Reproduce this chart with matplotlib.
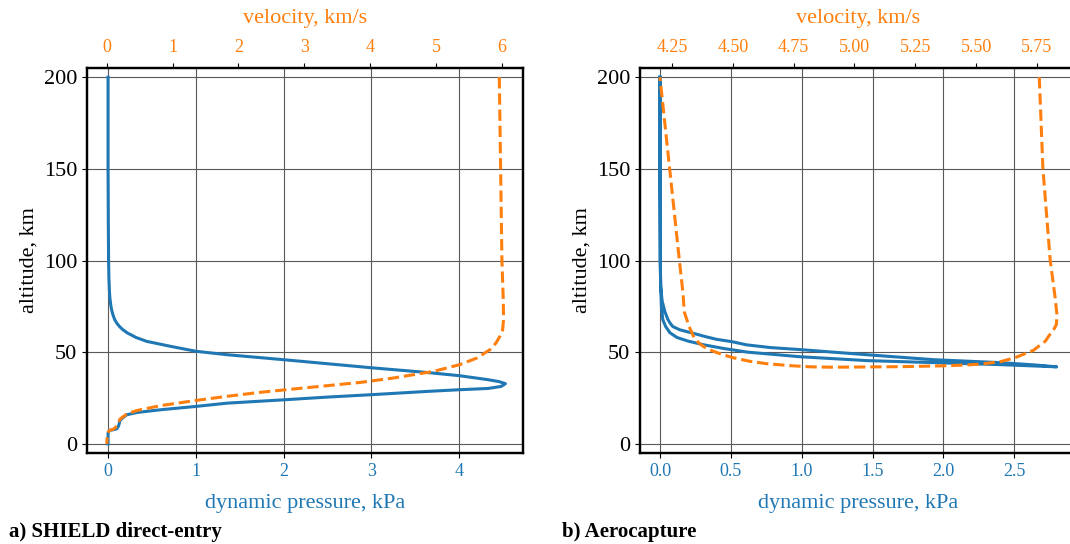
import numpy as np
import matplotlib
matplotlib.use("Agg")
import matplotlib.pyplot as plt

plt.rcParams['font.family'] = 'serif'
plt.rcParams['font.serif'] = ['Liberation Serif', 'DejaVu Serif']

BLUE = '#1f77b4'
ORANGE = '#ff7f0e'

# --- SHIELD direct-entry trajectory ---
shield_q_alt = [200, 150, 120, 100, 90, 84, 80, 76, 73.2, 70.5, 67.8, 65.8, 64, 62.2,
                60.5, 58, 55.9, 53.2, 50.5, 48.6, 45.9, 43.7, 41.5, 38.9, 37.2, 35,
                33.9, 32.8, 31.3, 30.2, 29.5, 28.6, 26.8, 25.5, 24.0, 22.2, 20.4, 18.6,
                17.1, 15.8, 13.1, 9.8, 8.2, 7.7, 7.3, 5.8, 0]
shield_q = [0.0, 0.0, 0.003, 0.006, 0.01, 0.015, 0.02, 0.03, 0.04, 0.055, 0.075,
            0.10, 0.13, 0.17, 0.22, 0.32, 0.44, 0.71, 1.0, 1.36, 2.0, 2.5, 3.0, 3.64,
            4.0, 4.33, 4.46, 4.53, 4.48, 4.33, 4.0, 3.64, 3.0, 2.5, 2.0, 1.36, 1.0,
            0.6, 0.33, 0.21, 0.14, 0.12, 0.10, 0.06, 0.015, 0.0, 0.0]

shield_v_alt = [200, 150, 100, 78.7, 67.8, 62, 58.7, 55, 51.4, 46.8, 43.2, 39.5,
                35.9, 33.5, 31.7, 29.9, 28.1, 25.9, 23.5, 20.8, 18.2, 16.4, 13.5, 9.8,
                8.0, 7.3, 5.8, 0]
shield_v = [5.96, 5.98, 6.0, 6.02, 6.025, 6.01, 5.97, 5.91, 5.82, 5.62, 5.36, 4.96,
            4.35, 3.85, 3.34, 2.83, 2.33, 1.82, 1.32, 0.81, 0.46, 0.31, 0.20, 0.16,
            0.10, 0.04, 0.01, 0.0]

# --- Aerocapture trajectory (entry leg then exit leg) ---
aero_q_alt = [200, 150, 100, 86, 78, 72, 68, 66, 64, 62.2, 60.6, 58.5, 57, 55.7, 54,
              52.5, 51.4, 48.6, 45.9, 44.3, 43, 42, 42.3, 43.2, 44.3, 45.4, 47.5, 50,
              52, 54, 56, 58, 60.6, 64, 67.7, 75, 86, 100, 150, 200]
aero_q = [0.0, 0.0, 0.002, 0.005, 0.015, 0.035, 0.055, 0.07, 0.09, 0.14, 0.22, 0.32,
          0.40, 0.51, 0.61, 0.78, 0.99, 1.46, 1.93, 2.40, 2.65, 2.80, 2.70, 2.40,
          1.93, 1.46, 0.99, 0.62, 0.45, 0.31, 0.20, 0.12, 0.07, 0.04, 0.02, 0.01,
          0.005, 0.002, 0.0, 0.0]

aero_v_alt = [200, 150, 100, 80, 70, 65, 62, 59, 56, 53.5, 51, 47, 44.8, 43.5, 43.0,
              42.5, 42.1, 41.9, 41.8, 42.0, 42.6, 43.7, 45, 47, 49, 51, 53, 55, 58,
              61, 64, 68, 72, 82, 100, 150, 200]
aero_v = [5.760, 5.775, 5.805, 5.825, 5.833, 5.830, 5.818, 5.80, 5.785, 5.76, 5.736,
          5.66, 5.60, 5.52, 5.46, 5.35, 5.19, 5.02, 4.90, 4.82, 4.74, 4.64, 4.57,
          4.50, 4.45, 4.41, 4.38, 4.36, 4.34, 4.33, 4.32, 4.31, 4.30, 4.295, 4.28,
          4.24, 4.20]

q_ticks_a = [0, 1, 2, 3, 4]
v_ticks_a = [0, 1, 2, 3, 4, 5, 6]
q_ticks_b = [0.0, 0.5, 1.0, 1.5, 2.0, 2.5]
v_ticks_b = [4.25, 4.50, 4.75, 5.00, 5.25, 5.50, 5.75]
alt_ticks = [0, 50, 100, 150, 200]


def draw_panel(ax, q_alt, q, v_alt, v, qlim, vlim, q_ticks, v_ticks, q_fmt, v_fmt, tag):
    ax.plot(q, q_alt, color=BLUE, lw=2.2, zorder=3)
    ax.set_xlim(qlim)
    ax.set_ylim(-5, 205)
    ax.set_xticks(q_ticks)
    ax.set_xticklabels([q_fmt.format(t) for t in q_ticks])
    ax.set_yticks(alt_ticks)
    ax.tick_params(axis='x', labelsize=13, labelcolor=BLUE)
    ax.tick_params(axis='y', labelsize=16)
    ax.set_xlabel('dynamic pressure, kPa', color=BLUE, fontsize=16, labelpad=10)
    ax.set_ylabel('altitude, km', fontsize=16)
    ax.grid(True, color='0.35', lw=0.8)
    ax.set_axisbelow(True)

    # velocity shares altitude but gets its own top axis
    ax2 = ax.twiny()
    ax2.plot(v, v_alt, color=ORANGE, lw=2.2, ls='--')
    ax2.set_xlim(vlim)
    ax2.set_xticks(v_ticks)
    ax2.set_xticklabels([v_fmt.format(t) for t in v_ticks])
    ax2.tick_params(axis='x', labelsize=13, labelcolor=ORANGE, pad=5.5)
    ax2.set_xlabel('velocity, km/s', color=ORANGE, fontsize=16, labelpad=11)

    for a in (ax, ax2):
        for s in a.spines.values():
            s.set_linewidth(1.6)

    ax.text(-0.18, -0.205, tag, transform=ax.transAxes,
            fontsize=15, fontweight='bold', ha='left', va='center')
    return ax2


fig = plt.figure(figsize=(10.70, 5.44), dpi=100)

ax_a = fig.add_axes([87 / 1070, 1 - 453 / 544, 436 / 1070, 385 / 544])
draw_panel(ax_a, shield_q_alt, shield_q, shield_v_alt, shield_v,
           (-0.24, 4.73), (-0.30, 6.32), q_ticks_a, v_ticks_a, '{:g}', '{:g}',
           'a) SHIELD direct-entry')

ax_b = fig.add_axes([640 / 1070, 1 - 453 / 544, 436 / 1070, 385 / 544])
draw_panel(ax_b, aero_q_alt, aero_q, aero_v_alt, aero_v,
           (-0.141, 2.936), (4.118, 5.911), q_ticks_b, v_ticks_b, '{:.1f}', '{:.2f}',
           'b) Aerocapture')

fig.savefig('out.png', dpi=100)
